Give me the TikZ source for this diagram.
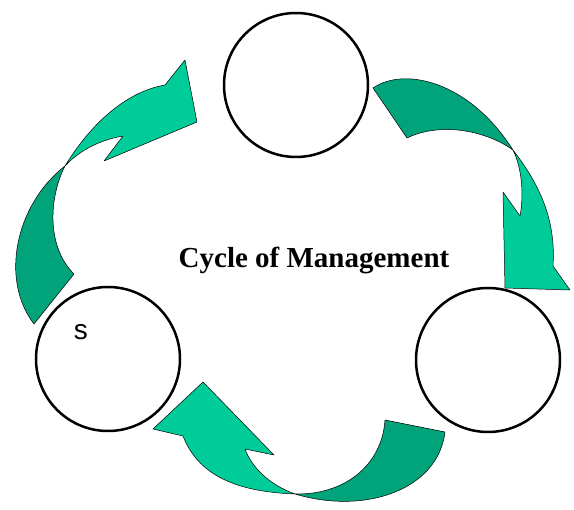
\documentclass[tikz,border=0pt]{standalone}
\usepackage{fontspec}
\setmainfont{Liberation Serif}
\setsansfont{Liberation Sans}
\definecolor{tealL}{HTML}{00CC99}
\definecolor{tealD}{HTML}{00A37A}
\begin{document}
\begin{tikzpicture}[x=1pt,y=-1pt,
    stage/.style={circle,draw,line width=2.5pt,minimum size=144pt,inner sep=0pt},
    lightpart/.style={fill=tealL,draw=black,line width=0.5pt,line join=round},
    darkpart/.style={fill=tealD,draw=black,line width=0.5pt,line join=round}]
\useasboundingbox (0,0) rectangle (574,510);
% the three stages
\node[stage] (top) at (296,85) {};
\node[stage] (left) at (108,359) {};
\node[stage] (right) at (488,360) {};
\node[anchor=base,font=\fontsize{28}{30}\sffamily] (s) at (81,340) {s};
\node[anchor=base,font=\fontsize{29}{32}\selectfont\bfseries] (title) at (314,268) {Cycle of Management};
% arrow from left to top
\draw[darkpart] (34,324) .. controls (0,280) and (15,205) .. (65,166)
      .. controls (50,195) and (45,245) .. (74,274) -- cycle;
\draw[lightpart] (65,166) .. controls (90,125) and (125,92) .. (165,85) -- (185,60) -- (197,122)
      -- (104,161) -- (123,136) .. controls (100,140) and (80,150) .. cycle;
% arrow from top to right
\draw[darkpart] (373,88) .. controls (405,66) and (470,82) .. (513,150)
      .. controls (485,130) and (440,122) .. (407,138) -- cycle;
\draw[lightpart] (513,150) .. controls (540,185) and (556,220) .. (553,266) -- (570,290) -- (505,288)
      -- (503,192) -- (520,216) .. controls (524,195) and (522,168) .. cycle;
% arrow from right to left
\draw[darkpart] (295,494) .. controls (345,495) and (382,465) .. (385,420) -- (445,432)
      .. controls (438,490) and (365,515) .. cycle;
\draw[lightpart] (295,494) .. controls (245,492) and (200,480) .. (183,436) -- (153,429) -- (203,382)
      -- (274,455) -- (245,449) .. controls (252,468) and (270,485) .. cycle;
\end{tikzpicture}
\end{document}
